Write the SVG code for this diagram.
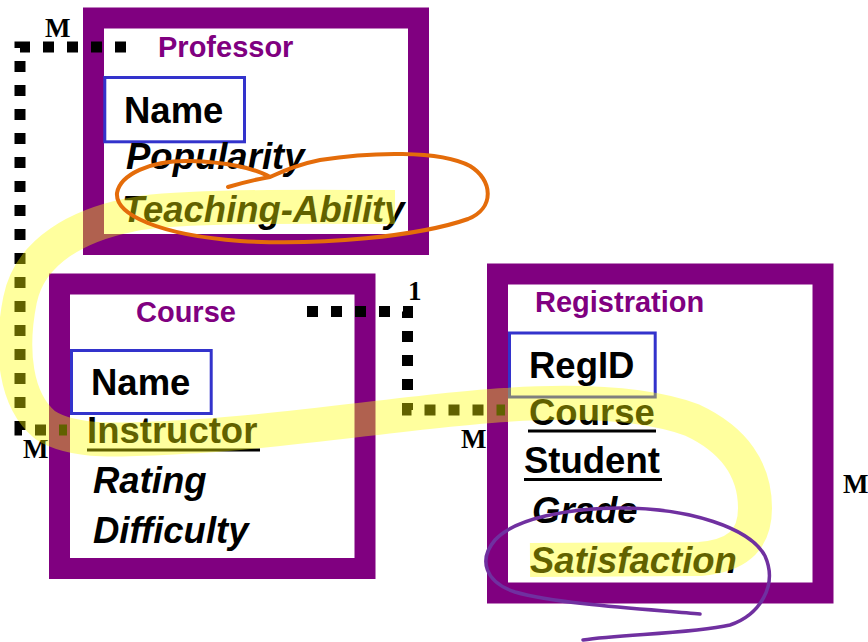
<svg xmlns="http://www.w3.org/2000/svg" width="868" height="642" viewBox="0 0 868 642">
<style>
.frame{fill:#ffffff;stroke:#800080;stroke-width:21}
.key{fill:none;stroke:#3333cc;stroke-width:3}
.title{font-family:"Liberation Sans",Arial,sans-serif;font-weight:bold;font-size:29px;fill:#800080}
.attr{font-family:"Liberation Sans",Arial,sans-serif;font-weight:bold;font-size:36.5px;fill:#000000}
.it{font-style:italic}
.ul{stroke:#000000;stroke-width:3}
.dots{fill:none;stroke:#000000;stroke-width:11;stroke-dasharray:11 13}
.card{font-family:"Liberation Serif","Times New Roman",serif;font-weight:bold;font-size:27px;fill:#000000}
</style>
<rect width="868" height="642" fill="#ffffff"/>
<g id="professor">
<rect class="frame" x="93.5" y="18" width="325" height="226.5"/>
<text class="title" x="158" y="57">Professor</text>
<rect class="key" x="104.8" y="77.5" width="139.7" height="64.3"/>
<text class="attr" x="124" y="122.5">Name</text>
<text class="attr it" x="126" y="169">Popularity</text>
<text class="attr it" x="122" y="222">Teaching-Ability</text>
</g>
<g id="course">
<rect class="frame" x="59.5" y="284" width="305.5" height="284.5"/>
<text class="title" x="136" y="322">Course</text>
<rect class="key" x="71.5" y="350.5" width="139.7" height="63"/>
<text class="attr" x="91" y="395">Name</text>
<text class="attr" x="87" y="443">Instructor</text>
<line class="ul" x1="87" y1="450" x2="260" y2="450"/>
<text class="attr it" x="93" y="493">Rating</text>
<text class="attr it" x="93" y="543">Difficulty</text>
</g>
<g id="registration">
<rect class="frame" x="497.5" y="274" width="325.5" height="319"/>
<text class="title" x="535" y="312">Registration</text>
<rect class="key" x="509.5" y="333" width="145.7" height="64"/>
<text class="attr" x="529" y="378">RegID</text>
<text class="attr" x="529" y="425">Course</text>
<line class="ul" x1="528" y1="431" x2="656" y2="431"/>
<text class="attr" x="524" y="473">Student</text>
<line class="ul" x1="524" y1="479.5" x2="662" y2="479.5"/>
<text class="attr it" x="532" y="523">Grade</text>
<text class="attr it" x="530" y="573">Satisfaction</text>
</g>
<g id="connectors">
<path class="dots" d="M126,47 H20 V430 H67"/>
<path class="dots" d="M307,311.5 H407.5 V410 H505"/>
<text class="card" x="45" y="37">M</text>
<text class="card" x="23" y="458">M</text>
<text class="card" x="408" y="300">1</text>
<text class="card" x="461" y="448">M</text>
<text class="card" x="843" y="493">M</text>
</g>
<g id="annotations">
<path d="M395,207 C300,207 170,205 130,215 C80,225 30,250 20,300 C10,350 15,400 45,425 C75,445 130,440 200,436 C300,430 420,410 505,405 C580,400 645,403 692,420 C735,440 755,470 755,508 C755,542 735,556 700,559 L530,560" fill="none" stroke="#ffff00" stroke-opacity="0.38" stroke-width="34" stroke-linejoin="round"/>
<path d="M228,187 C245,182 258,179 270,177 C255,168 225,162 190,161 C150,160 120,175 117,193 C115,215 160,235 240,241 C320,246 420,236 468,219 C495,208 493,180 470,166 C440,150 370,152 320,160 C300,164 285,170 270,177" fill="none" stroke="#e46c0a" stroke-width="4" stroke-linecap="round" stroke-linejoin="round"/>
<path d="M700,614 C660,610 560,605 515,592 C485,582 478,560 495,540 C515,518 570,508 620,508 C690,508 750,528 765,556 C778,585 760,615 730,625 C690,634 620,634 583,640" fill="none" stroke="#7030a0" stroke-width="3.5" stroke-linecap="round" stroke-linejoin="round"/>
</g>
</svg>
